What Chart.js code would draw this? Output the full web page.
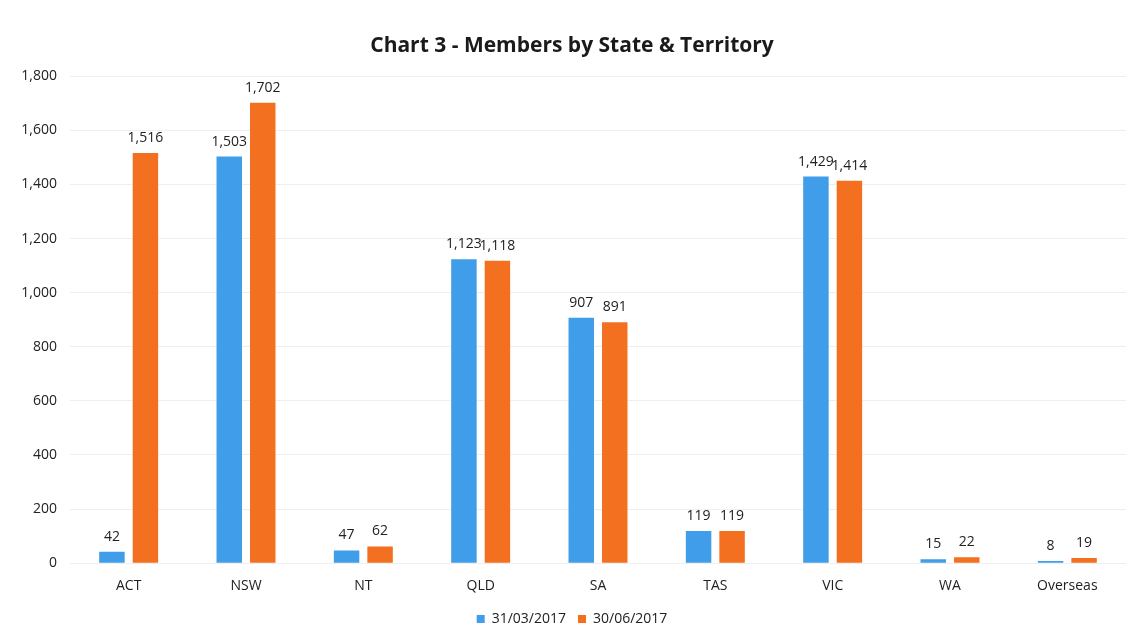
<!DOCTYPE html>
<html><head><meta charset="utf-8">
<script src="https://cdn.jsdelivr.net/npm/chart.js@4/dist/chart.umd.min.js"></script>
<style>html,body{margin:0;padding:0;background:#fff}#wrap{width:1128px;height:636px}</style>
</head><body><div id="wrap"><canvas id="c" width="1128" height="636"></canvas></div>
<script>
const categories = ["ACT","NSW","NT","QLD","SA","TAS","VIC","WA","Overseas"];
const seriesLabels = ["31/03/2017","30/06/2017"];
const march2017 = [42,1503,47,1123,907,119,1429,15,8];
const june2017 = [1516,1702,62,1118,891,119,1414,22,19];
const yTicks = [0,200,400,600,800,1000,1200,1400,1600,1800];

const FONT = "'Open Sans', 'Liberation Sans', sans-serif";
const labelPlugin = {
  id: 'barLabels',
  afterDatasetsDraw(chart) {
    const ctx = chart.ctx;
    ctx.save();
    ctx.font = "14px " + FONT;
    ctx.fillStyle = "#222";
    ctx.textAlign = "center";
    ctx.textBaseline = "bottom";
    chart.data.datasets.forEach((ds, i) => {
      chart.getDatasetMeta(i).data.forEach((bar, j) => {
        ctx.fillText(ds.data[j].toLocaleString('en-US'), bar.x, bar.y - 8);
      });
    });
    ctx.restore();
  }
};

new Chart(document.getElementById('c'), {
  type: 'bar',
  data: {
    labels: categories,
    datasets: [
      {label: seriesLabels[0], data: march2017, backgroundColor: '#3f9de9'},
      {label: seriesLabels[1], data: june2017, backgroundColor: '#f37021'}
    ]
  },
  options: {
    responsive: false,
    animation: false,
    layout: {padding: {left: 18, right: 2, top: 15, bottom: 0}},
    datasets: {bar: {categoryPercentage: 0.571, barPercentage: 0.76}},
    plugins: {
      title: {display: true, text: 'Chart 3 - Members by State & Territory', color: '#1a1a1a',
        font: {family: FONT, size: 21, weight: 'bold'}, padding: {top: 18, bottom: 18}},
      legend: {position: 'bottom', labels: {boxWidth: 8, boxHeight: 8, color: '#222', font: {family: FONT, size: 14}, padding: 12}},
      tooltip: {enabled: false}
    },
    scales: {
      x: {grid: {display: false}, border: {display: false},
        ticks: {color: '#222', font: {family: FONT, size: 14}, padding: 6}},
      y: {min: 0, max: 1800, border: {display: false},
        afterBuildTicks(s) { s.ticks = yTicks.map(v => ({value: v})); },
        afterFit(s) { s.width = 52; },
        grid: {color: '#efefef', drawTicks: false},
        ticks: {color: '#222', font: {family: FONT, size: 14}, padding: 13,
          callback: v => v.toLocaleString('en-US')}}
    }
  },
  plugins: [labelPlugin]
});
</script></body></html>
